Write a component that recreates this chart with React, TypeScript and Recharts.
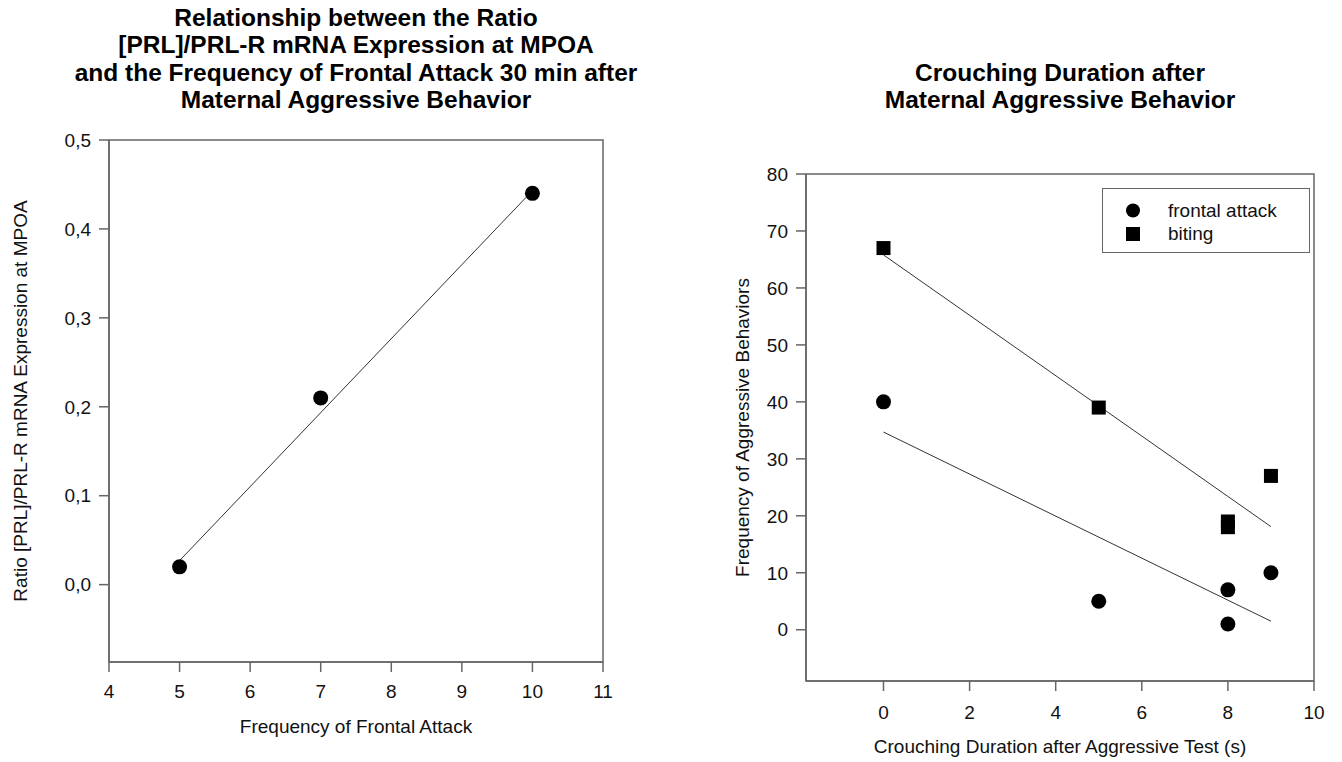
import React from "react";
import {
  ScatterChart,
  Scatter,
  XAxis,
  YAxis,
  ReferenceArea,
  Label,
} from "recharts";

// left panel: ratio vs frontal attack
const ratioPoints = [
  { x: 5, y: 0.02 },
  { x: 7, y: 0.21 },
  { x: 10, y: 0.44 },
];
const ratioFit = [
  { x: 5, y: 0.027 },
  { x: 10, y: 0.443 },
];
const ratioXTicks = [4, 5, 6, 7, 8, 9, 10, 11];
const ratioYTicks = [0, 0.1, 0.2, 0.3, 0.4, 0.5];
const ratioXDomain = [4, 11];
const ratioYDomain = [-0.087, 0.5];

// right panel: aggressive behaviours vs crouching
const frontalAttack = [
  { x: 0, y: 40 },
  { x: 5, y: 5 },
  { x: 8, y: 7 },
  { x: 8, y: 1 },
  { x: 9, y: 10 },
];
const biting = [
  { x: 0, y: 67 },
  { x: 5, y: 39 },
  { x: 8, y: 19 },
  { x: 8, y: 18 },
  { x: 9, y: 27 },
];
const frontalFit = [
  { x: 0, y: 34.7 },
  { x: 9, y: 1.5 },
];
const bitingFit = [
  { x: 0, y: 65.8 },
  { x: 9, y: 18.1 },
];
const crouchXTicks = [0, 2, 4, 6, 8, 10];
const crouchYTicks = [0, 10, 20, 30, 40, 50, 60, 70, 80];
const crouchXDomain = [-1.8, 10];
const crouchYDomain = [-9, 80];
const legendNames = ["frontal attack", "biting"];

const FONT = "'Liberation Sans', Arial, Helvetica, sans-serif";
const AXIS = "#666";
const tickStyle = { fill: "#111", fontSize: 19, fontFamily: FONT };

const Dot = (props: any) => (
  <circle cx={props.cx} cy={props.cy} r={7.5} fill="#000" />
);
const Square = (props: any) => (
  <rect x={props.cx - 7} y={props.cy - 7} width={14} height={14} fill="#000" />
);
const NoMark = () => <g />;

const comma = (v: number) => v.toFixed(1).replace(".", ",");

function CrouchLegend() {
  return (
    <div
      style={{
        position: "absolute",
        left: 1102,
        top: 188,
        border: "1.5px solid #666",
        width: 208,
        height: 65,
        boxSizing: "border-box",
        fontFamily: FONT,
        fontSize: 19,
        color: "#111",
        paddingTop: 10,
      }}
    >
      {legendNames.map((name, i) => (
        <div
          key={name}
          style={{ display: "flex", alignItems: "center", height: 23 }}
        >
          <svg width={65} height={23} style={{ flex: "none" }}>
            {i === 0 ? (
              <circle cx={30} cy={11.5} r={7} fill="#000" />
            ) : (
              <rect x={23} y={5} width={14} height={14} fill="#000" />
            )}
          </svg>
          <span>{name}</span>
        </div>
      ))}
    </div>
  );
}

const titleStyle: React.CSSProperties = {
  position: "absolute",
  textAlign: "center",
  fontFamily: FONT,
  fontWeight: "bold",
  fontSize: 24.5,
  lineHeight: "27.4px",
  color: "#000",
  whiteSpace: "nowrap",
};

export default function App() {
  return (
    <div
      style={{
        position: "absolute",
        left: 0,
        top: 0,
        width: 1342,
        height: 762,
        background: "#fff",
      }}
    >
      <div style={{ ...titleStyle, left: 56, width: 600, top: 4 }}>
        Relationship between the Ratio
        <br />
        [PRL]/PRL-R mRNA Expression at MPOA
        <br />
        and the Frequency of Frontal Attack 30 min after
        <br />
        Maternal Aggressive Behavior
      </div>

      <div style={{ ...titleStyle, left: 760, width: 600, top: 59 }}>
        Crouching Duration after
        <br />
        Maternal Aggressive Behavior
      </div>

      <div style={{ position: "absolute", left: 0, top: 0 }}>
        <ScatterChart
          width={671}
          height={762}
          margin={{ top: 140, right: 68, bottom: 25, left: 9 }}
        >
          <XAxis
            type="number"
            dataKey="x"
            domain={ratioXDomain}
            ticks={ratioXTicks}
            allowDataOverflow
            height={75}
            tickSize={10}
            tickMargin={13}
            tick={tickStyle}
            stroke={AXIS}
            strokeWidth={1.5}
          >
            <Label
              value="Frequency of Frontal Attack"
              position="insideBottom"
              offset={4}
              fontSize={19}
              fontFamily={FONT}
              fill="#111"
            />
          </XAxis>
          <YAxis
            type="number"
            dataKey="y"
            domain={ratioYDomain}
            ticks={ratioYTicks}
            allowDataOverflow
            width={100}
            tickSize={10}
            tickMargin={8}
            tickFormatter={comma}
            tick={tickStyle}
            stroke={AXIS}
            strokeWidth={1.5}
          >
            <Label
              value="Ratio [PRL]/PRL-R mRNA Expression at MPOA"
              angle={-90}
              position="insideLeft"
              offset={11}
              fontSize={19}
              fontFamily={FONT}
              fill="#111"
              style={{ textAnchor: "middle" }}
            />
          </YAxis>
          <ReferenceArea
            x1={ratioXDomain[0]}
            x2={ratioXDomain[1]}
            y1={ratioYDomain[0]}
            y2={ratioYDomain[1]}
            fill="none"
            stroke={AXIS}
            strokeWidth={1.5}
          />
          <Scatter
            data={ratioFit}
            line={{ stroke: "#333", strokeWidth: 1 }}
            shape={NoMark}
            isAnimationActive={false}
          />
          <Scatter data={ratioPoints} shape={Dot} isAnimationActive={false} />
        </ScatterChart>
      </div>

      <div style={{ position: "absolute", left: 671, top: 0 }}>
        <ScatterChart
          width={671}
          height={762}
          margin={{ top: 174, right: 28, bottom: 6, left: 55 }}
        >
          <XAxis
            type="number"
            dataKey="x"
            domain={crouchXDomain}
            ticks={crouchXTicks}
            allowDataOverflow
            height={75}
            tickSize={10}
            tickMargin={15}
            tick={tickStyle}
            stroke={AXIS}
            strokeWidth={1.5}
          >
            <Label
              value="Crouching Duration after Aggressive Test (s)"
              position="insideBottom"
              offset={3}
              fontSize={19}
              fontFamily={FONT}
              fill="#111"
            />
          </XAxis>
          <YAxis
            type="number"
            dataKey="y"
            domain={crouchYDomain}
            ticks={crouchYTicks}
            allowDataOverflow
            width={80}
            tickSize={10}
            tickMargin={8}
            tick={tickStyle}
            stroke={AXIS}
            strokeWidth={1.5}
          >
            <Label
              value="Frequency of Aggressive Behaviors"
              angle={-90}
              position="insideLeft"
              offset={16}
              fontSize={19}
              fontFamily={FONT}
              fill="#111"
              style={{ textAnchor: "middle" }}
            />
          </YAxis>
          <ReferenceArea
            x1={crouchXDomain[0]}
            x2={crouchXDomain[1]}
            y1={crouchYDomain[0]}
            y2={crouchYDomain[1]}
            fill="none"
            stroke={AXIS}
            strokeWidth={1.5}
          />
          <Scatter
            data={bitingFit}
            line={{ stroke: "#333", strokeWidth: 1 }}
            shape={NoMark}
            isAnimationActive={false}
          />
          <Scatter
            data={frontalFit}
            line={{ stroke: "#333", strokeWidth: 1 }}
            shape={NoMark}
            isAnimationActive={false}
          />
          <Scatter
            name="frontal attack"
            data={frontalAttack}
            shape={Dot}
            isAnimationActive={false}
          />
          <Scatter
            name="biting"
            data={biting}
            shape={Square}
            isAnimationActive={false}
          />
        </ScatterChart>
      </div>

      <CrouchLegend />
    </div>
  );
}
